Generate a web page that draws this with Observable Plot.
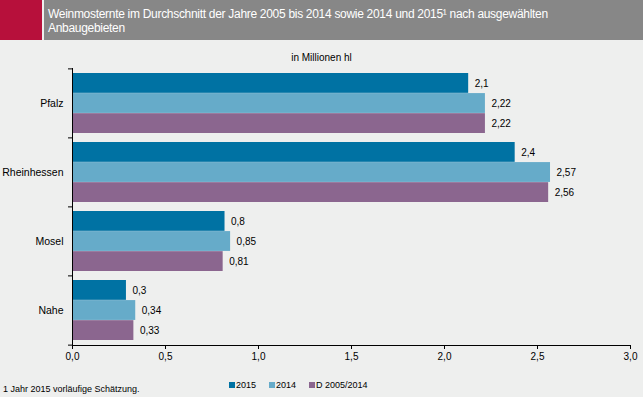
<!DOCTYPE html>
<html><head><meta charset="utf-8">
<script src="https://cdn.jsdelivr.net/npm/d3@7"></script>
<script src="https://cdn.jsdelivr.net/npm/@observablehq/plot@0.6"></script>
<style>
html,body{margin:0;padding:0;background:#eeefee;}
#wrap{position:relative;width:643px;height:397px;overflow:hidden;background:#eeefee;font-family:Arial,"Liberation Sans",sans-serif;color:#000;}
#red{position:absolute;left:0;top:0;width:42px;height:40px;background:#b7103b;}
#head{position:absolute;left:44px;top:0;width:599px;height:40px;background:#878787;color:#fff;font-size:12px;line-height:14px;padding:7px 0 0 4px;box-sizing:border-box;letter-spacing:-0.3px;}
#unit{position:absolute;left:0;width:643px;top:52px;text-align:center;font-size:10px;}
#chart{position:absolute;left:0;top:40px;}
#foot{position:absolute;left:3px;top:384px;font-size:9px;}
#legend{position:absolute;left:229px;top:380px;font-size:9px;display:flex;align-items:center;}
#legend .it{display:flex;align-items:center;margin-right:13px;}
#legend .sw{width:6px;height:6px;margin-right:1px;}
</style></head>
<body><div id="wrap">
<div id="red"></div>
<div id="head">Weinmosternte im Durchschnitt der Jahre 2005 bis 2014 sowie 2014 und 2015¹ nach ausgewählten<br>Anbaugebieten</div>
<div id="unit">in Millionen hl</div>
<div id="chart"></div>
<div id="foot">1 Jahr 2015 vorläufige Schätzung.</div>
<div id="legend"></div>
</div>
<script>
const regions = ["Pfalz", "Rheinhessen", "Mosel", "Nahe"];
const series = ["2015", "2014", "D 2005/2014"];
const colors = ["#0072a3", "#66abc9", "#8b668f"];
const labelDecimals = [1, 2, 2];
const v2015 = [2.13, 2.38, 0.82, 0.29];
const v2014 = [2.22, 2.57, 0.85, 0.34];
const vAvg = [2.22, 2.56, 0.81, 0.33];
const xTicks = [0, 0.5, 1, 1.5, 2, 2.5, 3];

const values = [v2015, v2014, vAvg];
const data = series.flatMap((s, si) => regions.map((r, ri) => ({region: r, series: s, si, value: values[si][ri]})));

const W = 643, H = 336, mt = 28, mb = 31, ml = 72, mr = 13;
const pIn = 0.13, pOut = 0.065;
const step = (H - mt - mb) / (regions.length - pIn + 2 * pOut);
const bw = step * (1 - pIn);
const sub = bw / series.length;
const xPerPx = 3 / (W - ml - mr);
const fmt = (v, si) => v.toFixed(labelDecimals[si]).replace(".", ",");
const tfmt = v => d3.format(".1f")(v).replace(".", ",");

const plot = Plot.plot({
  width: W, height: H,
  marginTop: mt, marginBottom: mb, marginLeft: ml, marginRight: mr,
  style: {background: "transparent", fontFamily: "Arial, 'Liberation Sans', sans-serif", fontSize: "10px", color: "#000"},
  x: {domain: [0, 3]},
  y: {domain: regions, paddingInner: pIn, paddingOuter: pOut},
  color: {domain: series, range: colors},
  marks: [
    ...series.map((s, si) => Plot.barX(data.filter(d => d.si === si), {
      y: "region", x: "value", fill: "series",
      insetTop: si * sub, insetBottom: (series.length - 1 - si) * sub
    })),
    ...series.map((s, si) => Plot.text(data.filter(d => d.si === si), {
      y: "region", x: "value", text: d => fmt(d.value, d.si),
      textAnchor: "start", dx: 6, dy: (si - 1) * sub, fontSize: 10, fill: "#000"
    })),
    Plot.ruleX([0], {stroke: "#000"}),
    Plot.ruleY(regions, {y: d => d, x1: -4 * xPerPx, x2: 0, dy: -step / 2, stroke: "#000"}),
    Plot.ruleY(regions.slice(-1), {y: d => d, x1: -4 * xPerPx, x2: 0, dy: step / 2, stroke: "#000"}),
    Plot.frame({anchor: "bottom", stroke: "#000"}),
    Plot.axisX({ticks: xTicks, tickFormat: tfmt, tickSize: 4, tickPadding: 3, fontSize: 10, label: null, stroke: "#000"}),
    Plot.axisY({tickSize: 0, tickPadding: 9, fontSize: 10.5, label: null})
  ]
});
document.getElementById("chart").appendChild(plot);

const lg = document.getElementById("legend");
series.forEach((s, i) => {
  const it = document.createElement("div"); it.className = "it";
  const sw = document.createElement("div"); sw.className = "sw"; sw.style.background = colors[i];
  const t = document.createElement("span"); t.textContent = s;
  it.appendChild(sw); it.appendChild(t); lg.appendChild(it);
});
</script>
</body></html>
